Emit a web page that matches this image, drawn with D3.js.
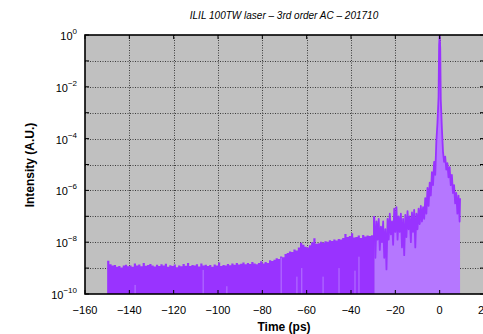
<!DOCTYPE html>
<html>
<head>
<meta charset="utf-8">
<script src="https://cdn.jsdelivr.net/npm/d3@7"></script>
<style>
  html, body { margin: 0; padding: 0; background: #ffffff; }
  svg { display: block; font-family: "Liberation Sans", Arial, Helvetica, sans-serif; }
</style>
</head>
<body>
<svg id="chart" width="483" height="334"></svg>
<script>
// Third-order autocorrelation trace of the ILIL 100TW laser (Oct 2017).
// Intensities are stored as log10 exponents.

// Long scan, 1 ps steps from -150 ps to -30 ps
const longScanStart = -150;
const longScanExp = [
  -8.72, -8.85, -8.90, -8.88, -8.95, -8.92, -8.98, -8.90, -8.87, -8.93,
  -8.90, -8.95, -8.82, -8.90, -8.86, -8.93, -8.80, -8.91, -8.88, -8.84,
  -8.90, -8.94, -8.87, -8.92, -8.85, -8.90, -8.83, -8.95, -8.89, -8.92,
  -8.86, -8.97, -8.90, -8.93, -8.84, -8.91, -8.80, -8.92, -8.88, -8.90,
  -8.85, -8.94, -8.82, -8.90, -8.87, -8.92, -8.88, -8.95, -8.86, -8.90,
  -8.78, -8.92, -8.88, -8.90, -8.84, -8.89, -8.82, -8.87, -8.80, -8.86,
  -8.83, -8.78, -8.85, -8.80, -8.84, -8.76, -8.82, -8.85, -8.80, -8.74,
  -8.82, -8.76, -8.80, -8.70, -8.73, -8.68, -8.62, -8.65, -8.55, -8.58,
  -8.46, -8.42, -8.36, -8.38, -8.28, -8.32, -8.20, -8.02, -8.10, -8.18,
  -8.20, -8.12, -8.00, -7.85, -8.06, -8.04, -7.98, -8.02, -7.96, -7.98,
  -7.92, -7.95, -7.90, -7.93, -7.88, -7.90, -7.84, -7.68, -7.80, -7.76,
  -7.65, -7.82, -7.80, -7.74, -7.84, -7.72, -7.78, -7.74, -7.76, -7.73,
  -7.75
];

// Gaps in the long scan where the underlying fill shows through
const gapTimes = [-137.4, -106.7, -96.0, -71.5, -64.4, -62.2, -52.6, -45.4, -38.2, -36.4];
const gapExp   = [-9.65,  -9.07,  -9.70, -8.60, -9.33, -9.00, -9.33, -9.00, -9.10, -8.56];

// Fine scan around the main pulse
const fineTimes = [
  -29.5, -29.0, -28.5, -28.0, -27.5, -27.0, -26.5, -26.0, -25.5, -25.0,
  -24.5, -24.0, -23.5, -23.0, -22.5, -22.0, -21.5, -21.0, -20.5, -20.0,
  -19.5, -19.0, -18.5, -18.0, -17.5, -17.0, -16.5, -16.0, -15.5, -15.0,
  -14.5, -14.0, -13.5, -13.0, -12.5, -12.0, -11.5, -11.0, -10.5, -10.0,
  -9.5, -9.0, -8.5, -8.0, -7.5, -7.0, -6.5, -6.0, -5.5, -5.0,
  -4.5, -4.0, -3.5, -3.0, -2.5, -2.0, -1.5, -1.0, -0.5, -0.25,
  0.0, 0.25, 0.5, 1.0, 1.5, 2.0, 2.5, 3.0, 3.5, 4.0,
  4.5, 5.0, 5.5, 6.0, 6.5, 7.0, 7.5, 8.0, 8.5, 9.0,
  9.2
];
const fineExp = [
  -7.00, -8.60, -7.20, -7.90, -7.10, -8.30, -7.40, -8.00, -7.20, -8.60,
  -7.50, -9.05, -7.10, -7.90, -6.90, -7.70, -7.20, -8.10, -6.70, -7.60,
  -6.65, -7.90, -7.00, -7.60, -6.90, -8.20, -7.10, -8.50, -6.95, -7.80,
  -6.80, -7.50, -7.00, -8.00, -6.85, -7.60, -6.75, -8.20, -6.90, -7.50,
  -6.70, -7.30, -6.60, -7.20, -6.65, -7.10, -6.30, -6.90, -5.90, -6.60,
  -5.70, -6.20, -5.30, -5.80, -4.90, -5.40, -4.10, -3.40, -2.40, -0.40,
  0.00, -0.50, -2.50, -3.60, -4.50, -4.90, -4.70, -5.20, -4.95, -5.50,
  -5.10, -5.80, -5.40, -6.10, -5.80, -6.50, -6.10, -6.90, -6.20, -7.20,
  -6.30
];

const xTicks = [-160, -140, -120, -100, -80, -60, -40, -20, 0, 20];
const yMajorExp = [0, -2, -4, -6, -8, -10];
const yGridExp = [0, -1, -2, -3, -4, -5, -6, -7, -8, -9, -10];

const titleText = "ILIL 100TW laser \u2013 3rd order AC \u2013 201710";
const xLabel = "Time (ps)";
const yLabel = "Intensity (A.U.)";

const colors = {
  panel: "#c0c0c0",
  grid: "#3c3c3c",
  dark: "#9933ff",
  light: "#b577ff"
};

const svg = d3.select("#chart");
const plot = { left: 85, right: 484, top: 35, bottom: 294 };

const x = d3.scaleLinear().domain([-160, 20]).range([plot.left, plot.right]);
const y = d3.scaleLog().domain([1e-10, 1]).range([plot.bottom, plot.top]);
const yv = e => y(Math.pow(10, e));

svg.append("defs").append("clipPath").attr("id", "plotClip")
  .append("rect")
  .attr("x", plot.left).attr("y", plot.top)
  .attr("width", plot.right - plot.left).attr("height", plot.bottom - plot.top);

// panel background
svg.append("rect")
  .attr("x", plot.left).attr("y", plot.top)
  .attr("width", plot.right - plot.left).attr("height", plot.bottom - plot.top)
  .attr("fill", colors.panel);

// grid
const grid = svg.append("g").attr("stroke", colors.grid).attr("stroke-width", 1)
  .attr("stroke-dasharray", "1,1.5");
grid.selectAll("line.v").data(xTicks.slice(1, -1)).join("line")
  .attr("x1", d => Math.round(x(d)) + 0.5).attr("x2", d => Math.round(x(d)) + 0.5)
  .attr("y1", plot.top).attr("y2", plot.bottom);
grid.selectAll("line.h").data(yGridExp.slice(1, -1)).join("line")
  .attr("y1", d => Math.round(yv(d)) + 0.5).attr("y2", d => Math.round(yv(d)) + 0.5)
  .attr("x1", plot.left).attr("x2", plot.right);

const data = svg.append("g").attr("clip-path", "url(#plotClip)");

// long scan: dense impulses rendered as a stepped area
const longScan = longScanExp.map((e, i) => ({ t: longScanStart + i, e }));
longScan.push({ t: fineTimes[0], e: longScanExp[longScanExp.length - 1] });
data.append("path")
  .datum(longScan)
  .attr("fill", colors.dark)
  .attr("d", d3.area()
    .x(d => x(d.t)).y0(plot.bottom).y1(d => yv(d.e))
    .curve(d3.curveStepAfter));

// gaps between impulses
data.selectAll("line.gap")
  .data(gapTimes.map((t, i) => ({ t, e: gapExp[i] })))
  .join("line")
  .attr("x1", d => x(d.t)).attr("x2", d => x(d.t))
  .attr("y1", plot.bottom).attr("y2", d => yv(d.e))
  .attr("stroke", colors.light).attr("stroke-width", 1);

// fine scan: filled curve plus its outline
const fine = fineTimes.map((t, i) => ({ t, e: fineExp[i] }));
data.append("path")
  .datum(fine)
  .attr("fill", colors.light)
  .attr("d", d3.area().x(d => x(d.t)).y0(plot.bottom).y1(d => yv(d.e)));
data.append("path")
  .datum(fine)
  .attr("fill", "none")
  .attr("stroke", colors.dark)
  .attr("stroke-width", 1.8)
  .attr("stroke-linejoin", "round")
  .attr("d", d3.line().x(d => x(d.t)).y(d => yv(d.e)));
// boundary impulse between the two scans
data.append("line")
  .attr("x1", x(fineTimes[0]) - 0.5).attr("x2", x(fineTimes[0]) - 0.5)
  .attr("y1", plot.bottom).attr("y2", yv(fineExp[0]))
  .attr("stroke", colors.dark).attr("stroke-width", 1.5);

// tick marks (inward) on all sides
const ticks = svg.append("g").attr("stroke", "#000").attr("stroke-width", 1);
ticks.selectAll("line.xb").data(xTicks).join("line")
  .attr("x1", d => x(d)).attr("x2", d => x(d))
  .attr("y1", plot.bottom).attr("y2", plot.bottom - 4);
ticks.selectAll("line.xt").data(xTicks).join("line")
  .attr("x1", d => x(d)).attr("x2", d => x(d))
  .attr("y1", plot.top).attr("y2", plot.top + 4);
ticks.selectAll("line.yl").data(yGridExp).join("line")
  .attr("y1", d => yv(d)).attr("y2", d => yv(d))
  .attr("x1", plot.left).attr("x2", plot.left + 4);
ticks.selectAll("line.yr").data(yGridExp).join("line")
  .attr("y1", d => yv(d)).attr("y2", d => yv(d))
  .attr("x1", plot.right).attr("x2", plot.right - 4);

// frame
svg.append("rect")
  .attr("x", plot.left).attr("y", plot.top)
  .attr("width", plot.right - plot.left).attr("height", plot.bottom - plot.top)
  .attr("fill", "none").attr("stroke", "#000").attr("stroke-width", 1.6);

// x tick labels
const fmtMinus = v => (v < 0 ? "\u2212" + Math.abs(v) : String(v));
svg.append("g").selectAll("text").data(xTicks).join("text")
  .attr("x", d => x(d)).attr("y", 314)
  .attr("text-anchor", "middle")
  .attr("font-size", 11)
  .attr("fill", "#000")
  .text(d => fmtMinus(d));

// y tick labels: 10^n
const yl = svg.append("g").selectAll("text").data(yMajorExp).join("text")
  .attr("x", 77).attr("y", d => yv(d) + 5)
  .attr("text-anchor", "end")
  .attr("font-size", 11)
  .attr("fill", "#000");
yl.append("tspan").text("10");
yl.append("tspan").attr("dy", -6).attr("font-size", 8).text(d => fmtMinus(d));

// title and axis titles
svg.append("text")
  .attr("x", 284).attr("y", 19)
  .attr("text-anchor", "middle")
  .attr("font-size", 10).attr("font-style", "italic")
  .text(titleText);
svg.append("text")
  .attr("x", 284).attr("y", 331)
  .attr("text-anchor", "middle")
  .attr("font-size", 12).attr("font-weight", "bold")
  .text(xLabel);
svg.append("text")
  .attr("transform", "translate(34,165) rotate(-90)")
  .attr("text-anchor", "middle")
  .attr("font-size", 12).attr("font-weight", "bold")
  .text(yLabel);
</script>
</body>
</html>
